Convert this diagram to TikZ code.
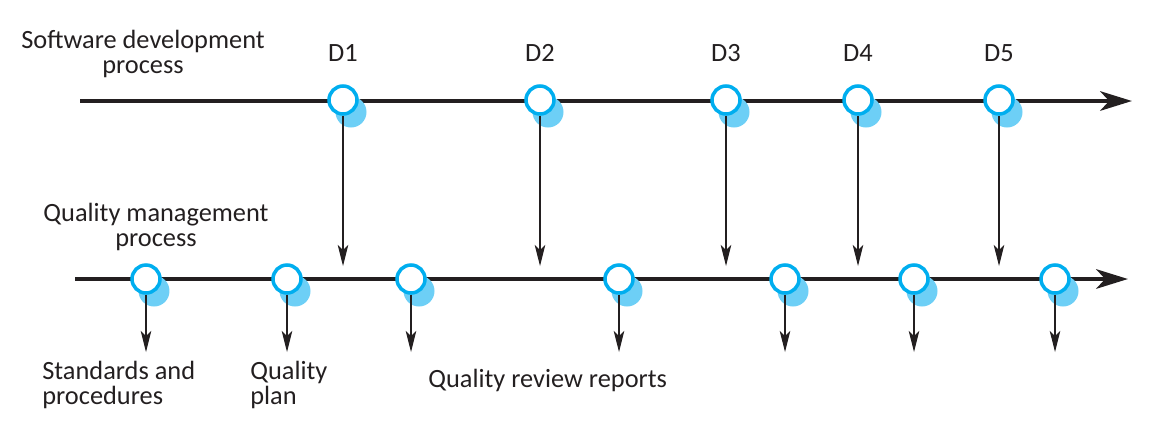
\documentclass[tikz,border=0pt]{standalone}
\usepackage{fontspec}
\setmainfont{Carlito}
\usetikzlibrary{arrows.meta}
\definecolor{ringblue}{HTML}{00AEEF}
\definecolor{shadeblue}{HTML}{6DCFF6}
\definecolor{inkblack}{HTML}{231F20}

\begin{document}
\begin{tikzpicture}[x=0.02cm,y=-0.02cm,
  milestone/.style={circle,draw=ringblue,fill=white,line width=2pt,
    minimum size=0.56cm,inner sep=0pt},
  timeline/.style={line width=2.8pt,draw=inkblack,
    -{Stealth[length=18pt,width=11pt,inset=5pt]}},
  feed/.style={line width=0.6pt,draw=inkblack,
    -{Stealth[length=12pt,width=6pt,inset=3pt]}},
  caption/.style={font=\fontsize{15}{14}\selectfont,text=inkblack,inner sep=0pt}]
  \useasboundingbox (0,0) rectangle (1152,424);

  % the two processes
  \coordinate (sw start) at (80,101);  \coordinate (sw end) at (1132,101);
  \coordinate (qm start) at (75,279);  \coordinate (qm end) at (1128,279);
  \draw[timeline] (sw start) -- (sw end);
  \draw[timeline] (qm start) -- (qm end);

  \node[caption,align=center,anchor=north] (sw label) at (143,30)
    {Software development\\process};
  \node[caption,align=center,anchor=north] (qm label) at (156,203)
    {Quality management\\process};

  % deliverables
  \foreach \x/\n in {343/1,540/2,726/3,858/4,999/5}{
    \fill[shadeblue] (\x+8,112) circle [radius=0.31cm];
    \node[milestone] (d\n) at (\x,100) {};
    \node[caption,anchor=base] (d\n label) at (\x,61) {D\n};
    \coordinate (d\n tip) at (\x,266);
    \draw[feed] (d\n) -- (d\n tip);
  }

  % quality checks
  \foreach \x/\n in {146/1,287/2,411/3,619/4,785/5,914/6,1055/7}{
    \fill[shadeblue] (\x+8,291) circle [radius=0.31cm];
    \node[milestone] (q\n) at (\x,279) {};
    \coordinate (q\n tip) at (\x,352);
    \draw[feed] (q\n) -- (q\n tip);
  }

  \node[caption,align=left,anchor=north west] (std label) at (42,361)
    {Standards and\\procedures};
  \node[caption,align=left,anchor=north west] (plan label) at (250,361)
    {Quality\\plan};
  \node[caption,anchor=base west] (review label) at (428,387)
    {Quality review reports};
\end{tikzpicture}
\end{document}
